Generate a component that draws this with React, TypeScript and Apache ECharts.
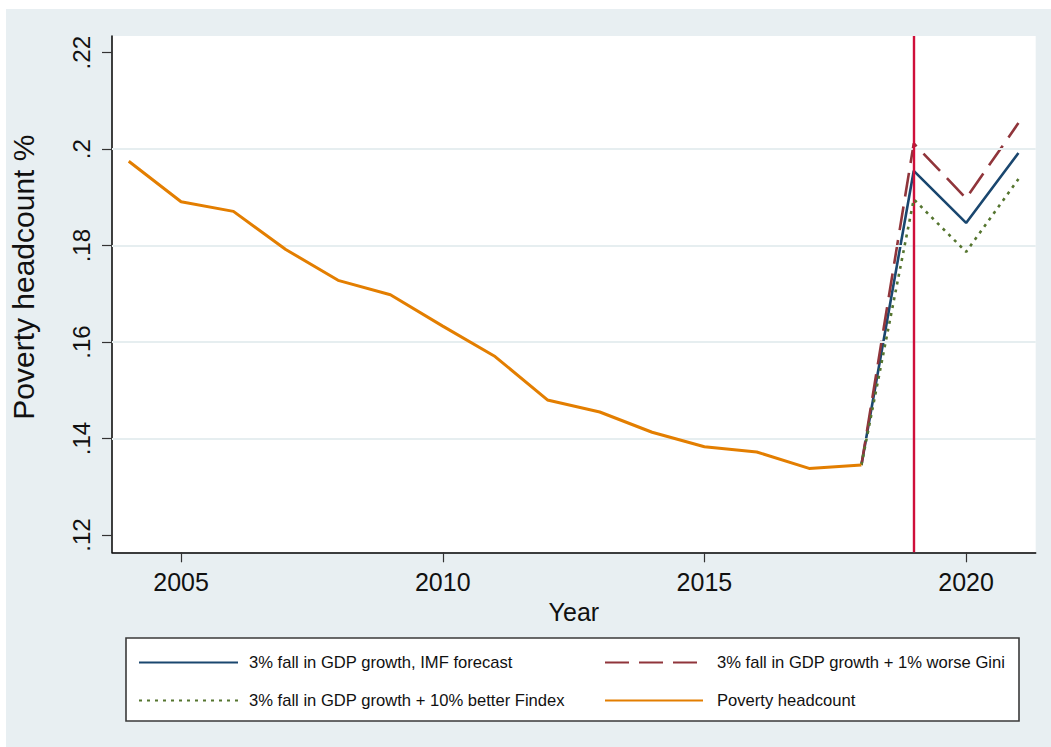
import React, { useEffect, useRef } from "react";
import * as echarts from "echarts";

const histYears = [2004, 2005, 2006, 2007, 2008, 2009, 2010, 2011, 2012, 2013, 2014, 2015, 2016, 2017, 2018];
const povertyHeadcount = [0.1975, 0.1891, 0.1871, 0.1792, 0.1728, 0.1698, 0.1633, 0.157, 0.148, 0.1455, 0.1413, 0.1383, 0.1372, 0.1338, 0.1345];

const scenarioYears = [2018, 2019, 2020, 2021];
const imfForecast = [0.1345, 0.1955, 0.1847, 0.1992];
const worseGini = [0.1345, 0.2012, 0.1898, 0.2054];
const betterFindex = [0.1345, 0.1896, 0.1787, 0.1938];

const yTicks = [0.12, 0.14, 0.16, 0.18, 0.2, 0.22];
const gridValues = [0.14, 0.16, 0.18, 0.2];
const xTicks = [2005, 2010, 2015, 2020];
const policyYear = 2019;

const names = {
  imf: "3% fall in GDP growth, IMF forecast",
  gini: "3% fall in GDP growth + 1% worse Gini",
  findex: "3% fall in GDP growth + 10% better Findex",
  pov: "Poverty headcount",
};

const FONT = "'Liberation Sans', Arial, sans-serif";

const pairs = (xs: number[], ys: number[]) => xs.map((x, i) => [x, ys[i]]);

export default function App() {
  const ref = useRef<HTMLDivElement>(null);
  useEffect(() => {
    if (!ref.current) return;
    const chart = echarts.init(ref.current, null, { renderer: "svg" });
    const legendCommon = {
      orient: "vertical",
      top: 654,
      padding: 0,
      itemHeight: 14,
      itemGap: 22,
      itemStyle: { opacity: 0 },
    };
    chart.setOption({
      animation: false,
      backgroundColor: "transparent",
      textStyle: { fontFamily: FONT },
      grid: {
        left: 111.7,
        right: 15.3,
        top: 36,
        bottom: 194.7,
        show: true,
        backgroundColor: "#ffffff",
        borderWidth: 0,
      },
      xAxis: {
        type: "value",
        min: 2003.68,
        max: 2021.33,
        name: "Year",
        nameLocation: "middle",
        nameGap: 42,
        nameTextStyle: { fontSize: 25, color: "#111", fontFamily: FONT },
        axisLine: { show: true, onZero: false, lineStyle: { color: "#000", width: 1.5 } },
        axisTick: { show: true, customValues: xTicks, length: 10, lineStyle: { color: "#333", width: 1.2 } },
        axisLabel: {
          customValues: xTicks,
          formatter: (v: number) => String(v),
          fontSize: 25,
          color: "#111",
          margin: 17,
          fontFamily: FONT,
        },
        splitLine: { show: false },
      },
      yAxis: {
        type: "value",
        min: 0.11641,
        max: 0.22346,
        name: "Poverty headcount %",
        nameLocation: "middle",
        nameGap: 74,
        nameRotate: 90,
        nameTextStyle: { fontSize: 30, color: "#111", fontFamily: FONT, padding: [0, 0, 0, 34] },
        axisLine: { show: true, onZero: false, lineStyle: { color: "#000", width: 1.5 } },
        axisTick: { show: true, customValues: yTicks, length: 10, lineStyle: { color: "#333", width: 1.2 } },
        axisLabel: {
          customValues: yTicks,
          formatter: (v: number) => String(Number(v.toFixed(2))).replace(/^0/, ""),
          rotate: 90,
          fontSize: 24,
          color: "#111",
          margin: 19,
          fontFamily: FONT,
        },
        splitLine: { show: false },
      },
      legend: [
        {
          ...legendCommon,
          data: [names.imf, names.findex],
          left: 138,
          itemWidth: 99,
          itemGap: 21,
          textStyle: { fontSize: 16.6, color: "#111", fontFamily: FONT, padding: [0, 0, 0, 6], lineHeight: 14 },
        },
        {
          ...legendCommon,
          data: [names.gini, names.pov],
          left: 604,
          itemWidth: 98,
          itemGap: 21,
          textStyle: { fontSize: 16.6, color: "#111", fontFamily: FONT, padding: [0, 0, 0, 9], lineHeight: 14 },
        },
      ],
      graphic: [
        {
          type: "rect",
          z: 0,
          shape: { x: 126, y: 638, width: 893, height: 83 },
          style: { fill: "#ffffff", stroke: "#3a3a3a", lineWidth: 1.6 },
        },
      ],
      series: [
        {
          name: "gridlines",
          type: "line",
          data: [],
          z: 1,
          silent: true,
          markLine: {
            silent: true,
            symbol: "none",
            label: { show: false },
            lineStyle: { color: "#e6eef0", width: 2.2, type: "solid" },
            data: gridValues.map((v) => ({ yAxis: v })),
          },
        },
        {
          name: names.imf,
          type: "line",
          z: 3,
          data: pairs(scenarioYears, imfForecast),
          symbol: "none",
          color: "#1a476f",
          lineStyle: { color: "#1a476f", width: 2.6 },
        },
        {
          name: names.gini,
          type: "line",
          z: 4,
          data: pairs(scenarioYears, worseGini),
          symbol: "none",
          color: "#90353b",
          lineStyle: { color: "#90353b", width: 2.6, type: [24, 10] },
        },
        {
          name: names.findex,
          type: "line",
          z: 5,
          data: pairs(scenarioYears, betterFindex),
          symbol: "none",
          color: "#55752f",
          lineStyle: { color: "#55752f", width: 2.6, type: [3, 5] },
        },
        {
          name: names.pov,
          type: "line",
          z: 6,
          data: pairs(histYears, povertyHeadcount),
          symbol: "none",
          color: "#e37e00",
          lineStyle: { color: "#e37e00", width: 3 },
        },
        {
          name: "policy",
          type: "line",
          data: [],
          z: 7,
          silent: true,
          markLine: {
            silent: true,
            symbol: "none",
            label: { show: false },
            lineStyle: { color: "#cf0f3a", width: 2.4, type: "solid" },
            data: [{ xAxis: policyYear }],
          },
        },
      ],
    });
    return () => chart.dispose();
  }, []);

  return (
    <div style={{ position: "fixed", left: 0, top: 0, width: 1051, height: 747, background: "#ffffff" }}>
      <div style={{ position: "absolute", left: 6, top: 9, right: 0, bottom: 0, background: "#e8eff2" }} />
      <div ref={ref} style={{ position: "absolute", left: 0, top: 0, width: 1051, height: 747 }} />
    </div>
  );
}
